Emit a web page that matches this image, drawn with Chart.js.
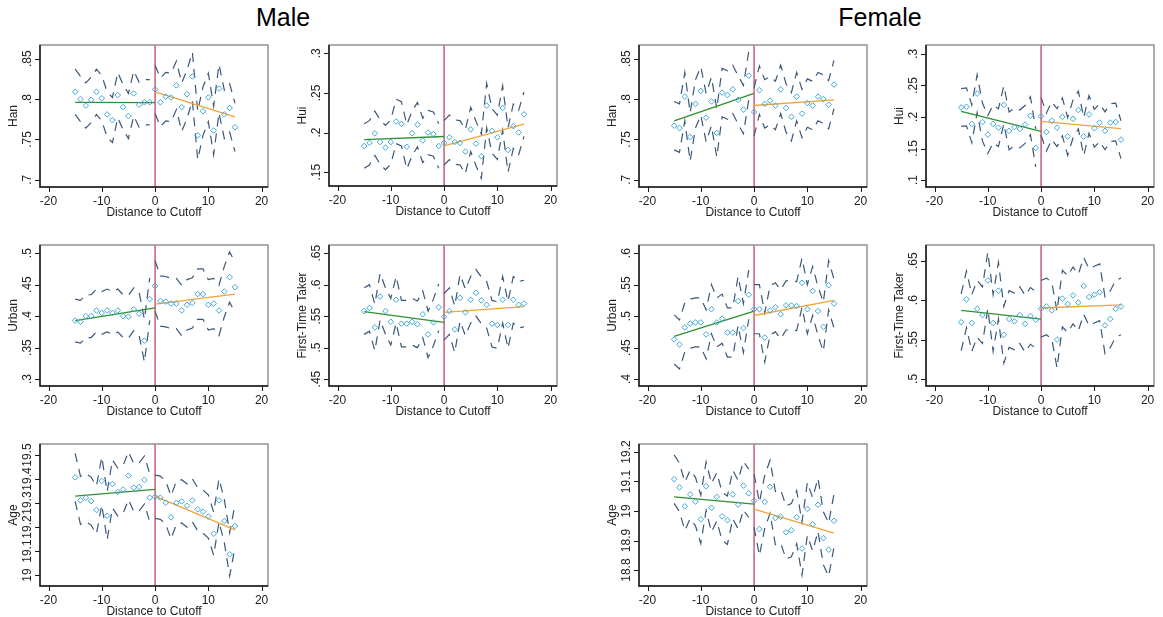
<!DOCTYPE html>
<html lang="en">
<head>
<meta charset="UTF-8">
<title>RD balance checks</title>
<script src="https://cdn.jsdelivr.net/npm/chart.js"></script>
<style>
  body { margin: 0; background: #fff; font-family: "Liberation Sans", Arial, sans-serif; }
  #wrap { position: relative; width: 1163px; height: 617px; overflow: hidden; }
  .head { position: absolute; top: 3px; font-size: 25px; color: #000; transform: translateX(-50%); }
  canvas { position: absolute; }
</style>
</head>
<body>
<div id="wrap">
  <div class="head" style="left:283px">Male</div>
  <div class="head" style="left:880px">Female</div>
</div>
<script>
// bins: distance to cutoff -15 .. 15
const distance = [-15,-14,-13,-12,-11,-10,-9,-8,-7,-6,-5,-4,-3,-2,-1,0,1,2,3,4,5,6,7,8,9,10,11,12,13,14,15];
const fitLeftX = [-15, 0];
const fitRightX = [0, 15];
const xTicks = [-20, -10, 0, 10, 20];

// ---- Male ----
const maleHanPts = [.809,.800,.792,.799,.809,.801,.781,.774,.805,.790,.779,.807,.793,.796,.796,.812,.796,.803,.802,.817,.790,.806,.828,.755,.785,.802,.761,.813,.781,.789,.765];
const maleHanUp  = [.837,.828,.820,.827,.837,.829,.809,.802,.833,.818,.807,.835,.821,.824,.824,.842,.826,.833,.832,.847,.820,.836,.858,.785,.815,.832,.791,.843,.811,.819,.795];
const maleHanLo  = [.781,.772,.764,.771,.781,.773,.753,.746,.777,.762,.751,.779,.765,.768,.768,.782,.766,.773,.772,.787,.760,.776,.798,.725,.755,.772,.731,.783,.751,.759,.735];
const maleHanFitL = [.796, .7955];
const maleHanFitR = [.809, .778];
const maleHanTicks = [.7, .75, .8, .85];

const maleHuiPts = [.183,.187,.199,.188,.181,.188,.214,.211,.182,.199,.210,.190,.200,.198,.183,.187,.194,.188,.187,.176,.204,.186,.170,.234,.202,.194,.231,.178,.208,.200,.223];
const maleHuiUp  = [.211,.215,.227,.216,.209,.216,.242,.239,.210,.227,.238,.218,.228,.226,.211,.215,.222,.216,.215,.204,.232,.214,.198,.262,.230,.222,.259,.206,.236,.228,.251];
const maleHuiLo  = [.155,.159,.171,.160,.153,.160,.186,.183,.154,.171,.182,.162,.172,.170,.155,.159,.166,.160,.159,.148,.176,.158,.142,.206,.174,.166,.203,.150,.180,.172,.195];
const maleHuiFitL = [.191, .195];
const maleHuiFitR = [.183, .2105];
const maleHuiTicks = [.15, .2, .25, .3];

const maleUrbanPts = [.393,.391,.400,.400,.409,.405,.409,.405,.409,.400,.399,.411,.404,.361,.427,.448,.424,.423,.420,.420,.409,.418,.421,.435,.435,.418,.420,.409,.439,.462,.446];
const maleUrbanUp  = [.427,.425,.434,.434,.443,.439,.443,.439,.443,.434,.433,.445,.438,.395,.461,.488,.464,.463,.460,.460,.449,.458,.461,.475,.475,.458,.460,.449,.479,.502,.486];
const maleUrbanLo  = [.359,.357,.366,.366,.375,.371,.375,.371,.375,.366,.365,.377,.370,.327,.393,.408,.384,.383,.380,.380,.369,.378,.381,.395,.395,.378,.380,.369,.399,.422,.406];
const maleUrbanFitL = [.393, .413];
const maleUrbanFitR = [.419, .435];
const maleUrbanTicks = [.3, .35, .4, .45, .5];

const maleFirstPts = [.558,.563,.532,.581,.558,.541,.576,.538,.538,.541,.537,.553,.521,.540,.564,.549,.558,.529,.579,.556,.576,.587,.575,.568,.538,.536,.576,.536,.576,.568,.570];
const maleFirstUp  = [.595,.600,.569,.618,.595,.578,.613,.575,.575,.578,.574,.590,.558,.577,.601,.586,.595,.566,.616,.593,.613,.624,.612,.605,.575,.573,.613,.573,.613,.605,.607];
const maleFirstLo  = [.521,.526,.495,.544,.521,.504,.539,.501,.501,.504,.500,.516,.484,.503,.527,.512,.521,.492,.542,.519,.539,.550,.538,.531,.501,.499,.539,.499,.539,.531,.533];
const maleFirstFitL = [.557, .540];
const maleFirstFitR = [.556, .565];
const maleFirstTicks = [.45, .5, .55, .6, .65];

const maleAgePts = [19.407,19.311,19.322,19.308,19.271,19.392,19.247,19.379,19.346,19.356,19.414,19.364,19.367,19.396,19.322,19.326,19.322,19.301,19.240,19.301,19.307,19.289,19.311,19.274,19.264,19.244,19.172,19.311,19.225,19.086,19.204];
const maleAgeUp  = [19.507,19.411,19.422,19.408,19.371,19.492,19.347,19.479,19.446,19.456,19.514,19.464,19.467,19.496,19.422,19.416,19.412,19.391,19.330,19.391,19.397,19.379,19.401,19.364,19.354,19.334,19.262,19.401,19.315,19.176,19.294];
const maleAgeLo  = [19.307,19.211,19.222,19.208,19.171,19.292,19.147,19.279,19.246,19.256,19.314,19.264,19.267,19.296,19.222,19.236,19.232,19.211,19.150,19.211,19.217,19.199,19.221,19.184,19.174,19.154,19.082,19.221,19.135,18.996,19.114];
const maleAgeFitL = [19.329, 19.357];
const maleAgeFitR = [19.329, 19.188];
const maleAgeTicks = [19, 19.1, 19.2, 19.3, 19.4, 19.5];

// ---- Female ----
const femHanPts = [.767,.764,.803,.753,.794,.810,.777,.797,.758,.808,.805,.812,.799,.787,.829,.784,.811,.794,.798,.792,.812,.789,.778,.803,.782,.795,.792,.803,.800,.793,.818];
const femHanUp  = [.797,.794,.833,.783,.824,.840,.807,.827,.788,.838,.835,.842,.829,.817,.859,.814,.841,.824,.828,.822,.842,.819,.808,.833,.812,.825,.822,.833,.830,.823,.848];
const femHanLo  = [.737,.734,.773,.723,.764,.780,.747,.767,.728,.778,.775,.782,.769,.757,.799,.754,.781,.764,.768,.762,.782,.759,.748,.773,.752,.765,.762,.773,.770,.763,.788];
const femHanFitL = [.773, .807];
const femHanFitR = [.792, .799];
const femHanTicks = [.7, .75, .8, .85];

const femHuiPts = [.215,.216,.189,.237,.192,.172,.189,.183,.219,.178,.184,.181,.188,.202,.151,.201,.176,.194,.183,.200,.169,.197,.211,.169,.204,.182,.191,.178,.191,.192,.164];
const femHuiUp  = [.245,.246,.219,.267,.222,.202,.219,.213,.249,.208,.214,.211,.218,.232,.181,.231,.206,.224,.213,.230,.199,.227,.241,.199,.234,.212,.221,.208,.221,.222,.194];
const femHuiLo  = [.185,.186,.159,.207,.162,.142,.159,.153,.189,.148,.154,.151,.158,.172,.121,.171,.146,.164,.153,.170,.139,.167,.181,.139,.174,.152,.161,.148,.161,.162,.134];
const femHuiFitL = [.209, .177];
const femHuiFitR = [.193, .1815];
const femHuiTicks = [.1, .15, .2, .25, .3];

const femUrbanPts = [.463,.455,.482,.488,.490,.490,.471,.511,.490,.496,.474,.474,.524,.481,.534,.511,.511,.466,.509,.514,.503,.517,.517,.516,.553,.511,.540,.508,.483,.549,.520];
const femUrbanUp  = [.502,.494,.521,.527,.529,.529,.510,.550,.529,.535,.513,.513,.563,.520,.573,.550,.550,.505,.548,.553,.542,.556,.556,.555,.592,.550,.579,.547,.522,.588,.559];
const femUrbanLo  = [.424,.416,.443,.449,.451,.451,.432,.472,.451,.457,.435,.435,.485,.442,.495,.472,.472,.427,.470,.475,.464,.478,.478,.477,.514,.472,.501,.469,.444,.510,.481];
const femUrbanFitL = [.468, .508];
const femUrbanFitR = [.501, .525];
const femUrbanTicks = [.4, .45, .5, .55, .6];

const femFirstPts = [.572,.601,.571,.589,.581,.625,.571,.612,.556,.576,.573,.581,.570,.580,.575,.589,.592,.587,.550,.602,.595,.606,.597,.618,.604,.607,.610,.568,.576,.589,.592];
const femFirstUp  = [.608,.637,.607,.625,.617,.661,.607,.648,.592,.612,.609,.617,.606,.616,.611,.625,.628,.623,.586,.638,.631,.642,.633,.654,.640,.643,.646,.604,.612,.625,.628];
const femFirstLo  = [.536,.565,.535,.553,.545,.589,.535,.576,.520,.540,.537,.545,.534,.544,.539,.553,.556,.551,.514,.566,.559,.570,.561,.582,.568,.571,.574,.532,.540,.553,.556];
const femFirstFitL = [.587, .576];
const femFirstFitR = [.590, .594];
const femFirstTicks = [.5, .55, .6, .65];

const femAgePts = [19.108,19.080,19.016,19.056,19.032,18.972,19.084,19.011,19.048,18.982,18.969,19.056,19.022,19.086,19.060,19.035,18.939,19.031,19.082,18.976,18.981,18.928,18.935,18.979,18.873,19.007,18.955,19.021,18.908,18.869,18.967];
const femAgeUp  = [19.190,19.162,19.098,19.138,19.114,19.054,19.166,19.093,19.130,19.064,19.051,19.138,19.104,19.168,19.142,19.125,19.029,19.121,19.172,19.066,19.071,19.018,19.025,19.069,18.963,19.097,19.045,19.111,18.998,18.959,19.057];
const femAgeLo  = [19.026,18.998,18.934,18.974,18.950,18.890,19.002,18.929,18.966,18.900,18.887,18.974,18.940,19.004,18.978,18.945,18.849,18.941,18.992,18.886,18.891,18.838,18.845,18.889,18.783,18.917,18.865,18.931,18.818,18.779,18.877];
const femAgeFitL = [19.048, 19.023];
const femAgeFitR = [19.006, 18.925];
const femAgeTicks = [18.8, 18.9, 19, 19.1, 19.2];

// plot-area placement of each panel (left, top, height) and axis ranges
const panels = [
  { left: 40,  top: 45,  h: 142, label: 'Han', yMin: .691, yMax: .867, ticks: maleHanTicks, pts: maleHanPts, up: maleHanUp, lo: maleHanLo, fitL: maleHanFitL, fitR: maleHanFitR },
  { left: 329, top: 45,  h: 141, label: 'Hui', yMin: .1325, yMax: .3105, ticks: maleHuiTicks, pts: maleHuiPts, up: maleHuiUp, lo: maleHuiLo, fitL: maleHuiFitL, fitR: maleHuiFitR },
  { left: 40,  top: 245, h: 141, label: 'Urban', yMin: .289, yMax: .513, ticks: maleUrbanTicks, pts: maleUrbanPts, up: maleUrbanUp, lo: maleUrbanLo, fitL: maleUrbanFitL, fitR: maleUrbanFitR },
  { left: 329, top: 245, h: 141, label: 'First-Time Taker', yMin: .439, yMax: .663, ticks: maleFirstTicks, pts: maleFirstPts, up: maleFirstUp, lo: maleFirstLo, fitL: maleFirstFitL, fitR: maleFirstFitR },
  { left: 40,  top: 444, h: 142, label: 'Age', yMin: 18.954, yMax: 19.546, ticks: maleAgeTicks, pts: maleAgePts, up: maleAgeUp, lo: maleAgeLo, fitL: maleAgeFitL, fitR: maleAgeFitR },
  { left: 639, top: 45,  h: 142, label: 'Han', yMin: .691, yMax: .867, ticks: femHanTicks, pts: femHanPts, up: femHanUp, lo: femHanLo, fitL: femHanFitL, fitR: femHanFitR },
  { left: 926, top: 45,  h: 142, label: 'Hui', yMin: .089, yMax: .314, ticks: femHuiTicks, pts: femHuiPts, up: femHuiUp, lo: femHuiLo, fitL: femHuiFitL, fitR: femHuiFitR },
  { left: 639, top: 245, h: 141, label: 'Urban', yMin: .389, yMax: .613, ticks: femUrbanTicks, pts: femUrbanPts, up: femUrbanUp, lo: femUrbanLo, fitL: femUrbanFitL, fitR: femUrbanFitR },
  { left: 926, top: 245, h: 141, label: 'First-Time Taker', yMin: .491, yMax: .670, ticks: femFirstTicks, pts: femFirstPts, up: femFirstUp, lo: femFirstLo, fitL: femFirstFitL, fitR: femFirstFitR },
  { left: 639, top: 444, h: 142, label: 'Age', yMin: 18.746, yMax: 19.227, ticks: femAgeTicks, pts: femAgePts, up: femAgeUp, lo: femAgeLo, fitL: femAgeFitL, fitR: femAgeFitR }
];

const FONT = '"Liberation Sans", Arial, sans-serif';
Chart.defaults.font.family = FONT;
Chart.defaults.color = '#222';

const AXIS_W = 40, AXIS_H = 40, PAD_T = 6, PAD_R = 4, PLOT_W = 229;

function pairs(xs, ys) { return xs.map((x, i) => ({ x: x, y: ys[i] })); }
function fmt(v) { return String(+v.toFixed(2)).replace(/^0\./, '.'); }

// Stata-like frame, tick marks and rotated y labels
const framePlugin = {
  id: 'frame',
  afterDraw(chart) {
    const { ctx, chartArea: a, scales: { x, y } } = chart;
    ctx.save();
    ctx.strokeStyle = '#999';
    ctx.lineWidth = 1.6;
    ctx.strokeRect(a.left, a.top, a.right - a.left, a.bottom - a.top);
    ctx.strokeStyle = '#1a1a1a';
    ctx.lineWidth = 1.5;
    ctx.beginPath();
    ctx.moveTo(a.left, a.top);
    ctx.lineTo(a.left, a.bottom);
    ctx.lineTo(a.right, a.bottom);
    ctx.stroke();
    ctx.lineWidth = 1;
    ctx.beginPath();
    x.ticks.forEach(t => {
      const px = Math.round(x.getPixelForValue(t.value)) + 0.5;
      ctx.moveTo(px, a.bottom);
      ctx.lineTo(px, a.bottom + 5);
    });
    y.ticks.forEach(t => {
      const py = Math.round(y.getPixelForValue(t.value)) + 0.5;
      ctx.moveTo(a.left - 5, py);
      ctx.lineTo(a.left, py);
    });
    ctx.stroke();
    ctx.fillStyle = '#222';
    ctx.font = '12px ' + FONT;
    ctx.textAlign = 'center';
    ctx.textBaseline = 'alphabetic';
    y.ticks.forEach(t => {
      const py = y.getPixelForValue(t.value);
      ctx.save();
      ctx.translate(a.left - 9, py);
      ctx.rotate(-Math.PI / 2);
      ctx.fillText(fmt(t.value), 0, 0);
      ctx.restore();
    });
    ctx.restore();
  }
};

const wrap = document.getElementById('wrap');

panels.forEach(p => {
  const cv = document.createElement('canvas');
  const w = AXIS_W + PLOT_W + PAD_R;
  const h = PAD_T + p.h + AXIS_H;
  cv.width = w; cv.height = h;
  cv.style.width = w + 'px'; cv.style.height = h + 'px';
  cv.style.left = (p.left - AXIS_W) + 'px';
  cv.style.top = (p.top - PAD_T) + 'px';
  wrap.appendChild(cv);

  const leftX = distance.slice(0, 15), rightX = distance.slice(15);
  const ciStyle = { showLine: true, borderColor: '#3b5878', borderWidth: 1.2, borderDash: [9, 7], pointRadius: 0 };

  new Chart(cv, {
    type: 'scatter',
    data: {
      datasets: [
        { data: pairs(distance, p.pts), showLine: false, pointStyle: 'rectRot', pointRadius: 2.8,
          borderColor: '#3ea7d8', borderWidth: 1, backgroundColor: 'rgba(0,0,0,0)' },
        { data: pairs(fitLeftX, p.fitL), showLine: true, borderColor: '#2f8f2f', borderWidth: 1.3, pointRadius: 0 },
        { data: pairs(fitRightX, p.fitR), showLine: true, borderColor: '#f2a33a', borderWidth: 1.3, pointRadius: 0 },
        Object.assign({ data: pairs(leftX, p.up.slice(0, 15)) }, ciStyle),
        Object.assign({ data: pairs(leftX, p.lo.slice(0, 15)) }, ciStyle),
        Object.assign({ data: pairs(rightX, p.up.slice(15)) }, ciStyle),
        Object.assign({ data: pairs(rightX, p.lo.slice(15)) }, ciStyle),
        { data: [{ x: 0, y: p.yMin }, { x: 0, y: p.yMax }], showLine: true, borderColor: '#b8204a', borderWidth: 1.1, pointRadius: 0 }
      ]
    },
    options: {
      responsive: false,
      animation: false,
      devicePixelRatio: 1,
      events: [],
      layout: { padding: { left: 0, top: PAD_T, right: PAD_R, bottom: 0 } },
      plugins: { legend: { display: false }, tooltip: { enabled: false } },
      scales: {
        x: {
          type: 'linear', min: -21.6, max: 21.2,
          afterBuildTicks: s => { s.ticks = xTicks.map(v => ({ value: v })); },
          afterFit: s => { s.height = AXIS_H; },
          grid: { display: false, tickLength: 5 },
          border: { display: false },
          ticks: { font: { size: 12 }, color: '#222', padding: 2, maxRotation: 0, autoSkip: false },
          title: { display: true, text: 'Distance to Cutoff', font: { size: 12 }, color: '#222', padding: { top: 0, bottom: 7 } }
        },
        y: {
          type: 'linear', min: p.yMin, max: p.yMax,
          afterBuildTicks: s => { s.ticks = p.ticks.map(v => ({ value: v })); },
          afterFit: s => { s.width = AXIS_W; },
          grid: { display: false },
          border: { display: false },
          ticks: { display: false },
          title: { display: true, text: p.label, font: { size: 12 }, color: '#222', padding: { top: 6, bottom: 0 } }
        }
      }
    },
    plugins: [framePlugin]
  });
});
</script>
</body>
</html>
